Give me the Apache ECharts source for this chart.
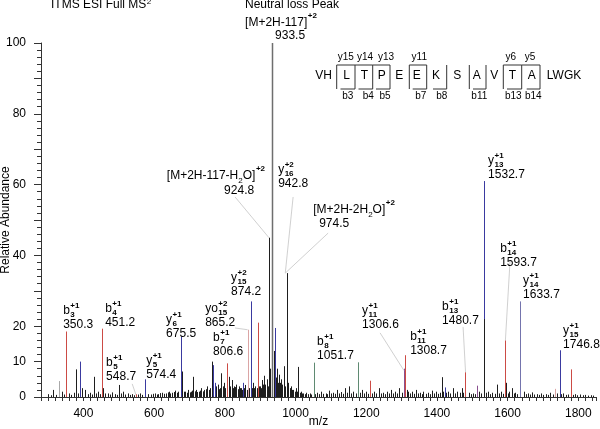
<!DOCTYPE html>
<html><head><meta charset="utf-8">
<script src="https://cdn.jsdelivr.net/npm/echarts@6/dist/echarts.min.js"></script>
<style>html,body{margin:0;padding:0;background:#fff}#c{width:600px;height:429px}</style>
</head><body><div id="c"></div>
<script>
const FONT = '"Liberation Sans", Arial, Helvetica, sans-serif';

// ---- axis tick labels ----
const xTickLabels = [400, 600, 800, 1000, 1200, 1400, 1600, 1800];
const yTickLabels = [0, 10, 20, 40, 60, 80, 100];

// ---- peaks [m/z, relative abundance] ----
const blackPeaks = [[300,0.8],[308,0.5],[315,2.0],[322,0.6],[339,1.5],[346,0.7],[358,1.0],[365,0.6],[372,1.2],[379,7.8],[384,1.0],[395,2.5],[405,2.0],[412,0.8],[418,1.2],[425,0.7],[430,5.7],[436,1.0],[442,1.5],[448,0.8],[455,2.5],[462,1.0],[470,1.0],[476,0.7],[482,1.3],[490,0.8],[496,0.6],[502,3.4],[507,1.0],[512,1.5],[518,0.7],[525,1.0],[531,0.6],[538,0.8],[543,0.5],[555,0.7],[560,1.0],[566,0.6],[583,0.8],[590,0.7],[596,0.9],[602,1.0],[607,0.7],[612,0.8],[617,1.1],[622,1.2],[628,0.9],[633,1.0],[638,1.3],[642,1.5],[646,1.0],[650,1.2],[655,1.4],[660,1.8],[664,1.2],[668,1.5],[679,7.2],[684,1.5],[688,1.5],[692,1.2],[697,2.0],[701,1.3],[704,1.5],[708,1.8],[711,5.7],[715,1.6],[718,2.0],[722,1.4],[726,1.5],[730,1.8],[734,2.5],[738,1.6],[742,2.0],[746,2.2],[750,3.0],[754,2.0],[758,2.5],[764,10.0],[776,3.0],[780,3.5],[783,2.2],[786,2.5],[790,6.7],[794,3.0],[797,4.0],[800,2.5],[812,5.7],[816,3.0],[820,4.8],[823,2.5],[826,3.0],[830,2.8],[833,3.5],[836,2.2],[840,3.0],[843,2.5],[846,2.5],[849,2.0],[855,2.5],[858,3.4],[862,2.0],[869,2.5],[878,2.5],[880,4.0],[883,2.5],[886,3.0],[890,2.5],[897,3.0],[900,3.0],[903,2.5],[906,4.8],[909,3.5],[912,6.0],[915,3.5],[918,5.0],[921,3.0],[924.8,45],[929,8.0],[938,13.0],[946,5.5],[948,8.0],[951,4.0],[954,6.3],[957,4.0],[960,5.0],[963,3.5],[966,8.7],[969,3.0],[974.5,35],[978,3.5],[980,4.0],[984,2.5],[987,3.0],[991,2.0],[994,2.0],[998,1.5],[1001,2.5],[1005,1.5],[1008,8.5],[1012,1.2],[1015,1.5],[1019,1.0],[1022,1.0],[1026,0.8],[1030,1.2],[1035,0.8],[1040,1.0],[1045,0.7],[1056,0.8],[1060,1.2],[1066,0.8],[1072,1.5],[1078,0.9],[1085,1.0],[1090,0.8],[1095,1.8],[1100,1.0],[1105,1.2],[1111,0.9],[1118,2.0],[1123,1.0],[1128,1.4],[1134,0.9],[1140,2.5],[1146,1.2],[1152,3.0],[1158,1.0],[1164,1.5],[1170,1.0],[1183,1.2],[1188,2.0],[1193,1.0],[1198,1.5],[1204,0.9],[1216,1.0],[1222,1.5],[1228,1.0],[1235,2.5],[1241,1.0],[1248,1.2],[1254,0.8],[1260,1.5],[1265,1.0],[1270,2.0],[1276,1.0],[1282,1.5],[1288,1.0],[1294,2.5],[1300,1.2],[1314,2.0],[1318,1.5],[1324,1.0],[1330,1.5],[1335,0.9],[1340,2.0],[1346,1.0],[1352,1.2],[1357,0.8],[1362,1.5],[1368,0.9],[1375,1.2],[1380,0.8],[1386,1.8],[1392,1.0],[1398,1.5],[1404,0.9],[1409,1.2],[1414,5.6],[1418,1.5],[1427,1.2],[1432,1.5],[1438,1.0],[1445,2.5],[1451,1.0],[1458,1.5],[1464,1.2],[1470,2.5],[1475,1.2],[1490,1.2],[1496,0.8],[1502,1.0],[1507,0.8],[1520,1.5],[1526,1.0],[1540,1.2],[1545,1.5],[1551,0.8],[1557,1.2],[1563,0.9],[1570,3.5],[1575,1.0],[1580,1.5],[1586,0.9],[1600,1.0],[1605,1.5],[1612,2.5],[1617,1.0],[1622,1.2],[1627,0.8],[1645,1.5],[1651,0.8],[1658,1.0],[1664,0.7],[1670,1.3],[1676,0.7],[1682,0.8],[1688,0.6],[1695,1.0],[1701,0.6],[1708,0.8],[1714,0.6],[1720,1.2],[1727,0.7],[1740,1.0],[1752,0.8],[1758,1.0],[1764,0.6],[1770,0.7],[1785,0.6],[1790,0.8],[1797,0.5],[1805,0.7],[1812,0.5],[1820,0.6],[1827,0.4],[1835,0.5],[1842,0.4]];
const lightGrayPeaks = [[332,4.5]];
const greenPeaks = [[1051.7,9.7],[1178,9.8]];
const pinkPeaks = [[865.2,19],[1735,2.3]];
const redPeaks = [[350.3,18.5],[451.2,19.3],[548.7,0.8],[806.6,9.5],[893,21],[1211,4.6],[1308.7,11.8],[1480.7,7],[1593.7,16],[1779,7.8]];
const purplePeaks = [[1306.6,8],[1513,3.2]];
const slatePeaks = [[1633.7,27]];
const paleSlatePeaks = [[1636,18.5]];
const bluePeaks = [[389,10],[574.4,5],[675.5,17],[767,9],[772,4],[852,4],[874.2,27],[942.8,19.5],[1422,2.7],[1532.7,61],[1746.8,13.2]];
const basePeak = [[933.5,100]];
const overlayPeaks = [[1533,22],[1594,4]];

// ---- fragment ion labels: [ion, charge, index, m/z text, anchor m/z, anchor abundance] ----
const ionLabels = [
  ['b','+1','3','350.3',342.6,24.3],
  ['b','+1','4','451.2',461.4,24.9],
  ['b','+1','5','548.7',464.2,9.6],
  ['y','+1','5','574.4',577.4,10.2],
  ['y','+1','6','675.5',633.9,21.7],
  ['b','+1','7','806.6',766.9,16.7],
  ['yo','+2','15','865.2',744.3,24.9],
  ['y','+2','15','874.2',817.8,33.6],
  ['y','+2','16','942.8',950.8,64.1],
  ['b','+1','8','1051.7',1061.1,15.5],
  ['y','+1','11','1306.6',1188.4,24.3],
  ['b','+1','11','1308.7',1324.2,17.0],
  ['b','+1','13','1480.7',1414.7,25.4],
  ['y','+1','13','1532.7',1544.8,66.7],
  ['b','+1','14','1593.7',1578.8,41.8],
  ['y','+1','14','1633.7',1643.8,32.8],
  ['y','+1','15','1746.8',1757.0,18.6]
];

// ---- precursor-related labels: segments (0 normal, 1 sub, 2 sup), anchor, value, value anchor ----
const precursorLabels = [
  {segs:[['[M+2H-117]',0],['+2',2]], mz:857.4, ab:105.6, value:'933.5', vmz:984.7, vab:102.0},
  {segs:[['[M+2H-117-H',0],['2',1],['O]',0],['+2',2]], mz:635.9, ab:62.4, value:'924.8', vmz:840.5, vab:58.2},
  {segs:[['[M+2H-2H',0],['2',1],['O]',0],['+2',2]], mz:1049.8, ab:52.8, value:'974.5', vmz:1109.3, vab:48.9}
];

// ---- leader lines [from m/z, from ab, to m/z, to ab] ----
const leaders = [
  [829.1,56.5,924.8,45],
  [993.2,56.5,971,35],
  [1092.2,46.3,971,35],
  [1607,38.7,1593.7,16],
  [1474,19.8,1481,7],
  [1239.3,18.1,1306.6,7.5],
  [829,19.5,864.5,19],
  [538,3.7,548.7,0.6]
];

// ---- peptide sequence inset ----
const residues = ['VH','L','T','P','E','E','K','S','A','V','T','A','LWGK'];
const yIons = ['y15','y14','y13','y11','y6','y5'];
const bIons = ['b3','b4','b5','b7','b8','b11','b13','b14'];
// layout of inset (pixels)
const residueX = [323.5,346.7,364.3,381.7,399.3,416.7,436,457.3,476.7,494.3,512.3,531.7,564];
const yIonX = [345.7,365,386,419.3,510.7,530];
const bIonX = [347.7,368.3,385,420.7,441.7,479.3,513.3,533.3];
const cuts = [ // x, top bar end, bottom bar start
  [336.7,355,null],[355,372.7,340.5],[372.7,390,358.5],[390,null,376],[409.3,426.7,null],
  [426.7,null,412.7],[446.7,null,433],[469.3,null,null],[486,null,473],[503.3,521.7,null],
  [521.7,540,507],[540,null,526.7]
];

const chart = echarts.init(document.getElementById('c'), null, {renderer:'canvas'});

function peakSeries(data, color, w, z) {
  return {
    type:'custom', silent:true, z:z, clip:true,
    data:data, encode:{x:0, y:1},
    renderItem:function(params, api){
      const t = api.coord([api.value(0), api.value(1)]);
      const b = api.coord([api.value(0), 0]);
      const x = Math.round(t[0]) + 0.5;
      return {type:'line', shape:{x1:x, y1:b[1], x2:x, y2:t[1]}, style:{stroke:color, lineWidth:w}};
    }
  };
}

const axisColor = '#333';
chart.setOption({
  animation:false,
  backgroundColor:'#fff',
  grid:{left:41, right:4, top:43, bottom:32, containLabel:false, outerBoundsMode:'none'},
  xAxis:{
    type:'value', min:280, max:1850, interval:20,
    name:'m/z', nameLocation:'middle', nameGap:19, nameMoveOverlap:false,
    nameTextStyle:{fontFamily:FONT, fontSize:12, color:'#000'},
    axisLine:{show:true, onZero:false, lineStyle:{color:axisColor, width:1}},
    axisTick:{show:true, length:4, lineStyle:{color:axisColor}},
    axisLabel:{fontFamily:FONT, fontSize:12, color:'#000', margin:11,
      formatter:function(v){ return xTickLabels.indexOf(v) >= 0 ? String(v) : ''; }},
    splitLine:{show:false}
  },
  yAxis:{
    type:'value', min:0, max:100, interval:10,
    name:'Relative Abundance', nameLocation:'middle', nameGap:29, nameMoveOverlap:false,
    nameTextStyle:{fontFamily:FONT, fontSize:12, color:'#000'},
    axisLine:{show:true, lineStyle:{color:axisColor, width:1}},
    axisTick:{show:true, length:7, lineStyle:{color:axisColor}},
    minorTick:{show:true, splitNumber:5, length:4, lineStyle:{color:axisColor}},
    axisLabel:{fontFamily:FONT, fontSize:12, color:'#000', margin:15,
      formatter:function(v){ return yTickLabels.indexOf(v) >= 0 ? String(v) : ''; }},
    splitLine:{show:false}, minorSplitLine:{show:false}
  },
  series:[
    peakSeries(blackPeaks,'#1e1e1e',1,2),
    peakSeries(lightGrayPeaks,'#a8a8a8',1,3),
    peakSeries(greenPeaks,'#5f8a72',1,3),
    peakSeries(pinkPeaks,'#dba5a5',1,3),
    peakSeries(purplePeaks,'#8a4f8f',1,3),
    peakSeries(redPeaks,'#cc4b45',1,4),
    peakSeries(paleSlatePeaks,'#a0a0c0',1,3),
    peakSeries(slatePeaks,'#7474ad',1,4),
    peakSeries(bluePeaks,'#3a3aa0',1,4),
    peakSeries(basePeak,'#6e6e6e',1.5,5),
    peakSeries(overlayPeaks,'#1e1e1e',1,6)
  ]
});

// ---- annotations ----
const ctx = document.createElement('canvas').getContext('2d');
function tw(t, size, bold){ ctx.font = (bold?'bold ':'') + size + 'px ' + FONT; return ctx.measureText(t).width; }
function P(mz, ab){ return chart.convertToPixel({xAxisIndex:0, yAxisIndex:0}, [mz, ab]); }
function T(text, x, y, size, opt){
  opt = opt || {};
  return {type:'text', z:100, silent:true, x:x, y:y, style:{
    text:text, fill:opt.fill || '#000', font:(opt.bold?'bold ':'') + size + 'px ' + FONT,
    align:opt.align || 'left', verticalAlign:'middle'}};
}
function L(x1,y1,x2,y2,color,w){
  return {type:'line', z:90, silent:true, shape:{x1:x1,y1:y1,x2:x2,y2:y2}, style:{stroke:color, lineWidth:w}};
}
const els = [];

// title texts
els.push(T('ITMS ESI Full MS', 51, 5, 12));
els.push(T('2', 51 + tw('ITMS ESI Full MS', 12) + 0.5, 2, 8));
els.push(T('Neutral loss Peak', 245, 5, 12));

// ion labels
ionLabels.forEach(function(d){
  const p = P(d[4], d[5]);
  const w = tw(d[0], 12);
  els.push(T(d[0], p[0], p[1], 12));
  els.push(T(d[1], p[0] + w + 0.5, p[1] - 5.5, 8, {bold:true}));
  els.push(T(d[2], p[0] + w + 0.5, p[1] + 3.5, 8, {bold:true}));
  els.push(T(d[3], p[0], p[1] + 14, 12));
});

// precursor labels
precursorLabels.forEach(function(d){
  const p = P(d.mz, d.ab);
  let x = p[0];
  d.segs.forEach(function(s){
    if (s[1] === 0) { els.push(T(s[0], x, p[1], 12)); x += tw(s[0], 12); }
    else if (s[1] === 1) { els.push(T(s[0], x, p[1] + 4.5, 8)); x += tw(s[0], 8); }
    else { els.push(T(s[0], x + 0.5, p[1] - 7, 8, {bold:true})); x += tw(s[0], 8, true); }
  });
  const v = P(d.vmz, d.vab);
  els.push(T(d.value, v[0], v[1], 12, {align:'center'}));
});

// leader lines
leaders.forEach(function(d){
  const a = P(d[0], d[1]), b = P(d[2], d[3]);
  els.push(L(a[0], a[1], b[0], b[1], '#c4c4c4', 0.8));
});

// peptide inset
residues.forEach(function(r, i){ els.push(T(r, residueX[i], 76, 12, {align:'center'})); });
yIons.forEach(function(r, i){ els.push(T(r, yIonX[i], 57, 10, {align:'center'})); });
bIons.forEach(function(r, i){ els.push(T(r, bIonX[i], 96.5, 10, {align:'center'})); });
cuts.forEach(function(c){
  els.push(L(c[0], 65, c[0], 89, '#333', 1));
  if (c[1] !== null) els.push(L(c[0], 65, c[1], 65, '#333', 1));
  if (c[2] !== null) els.push(L(c[2], 89, c[0], 89, '#333', 1));
});

chart.setOption({graphic:{elements:els}});
</script>
</body></html>
